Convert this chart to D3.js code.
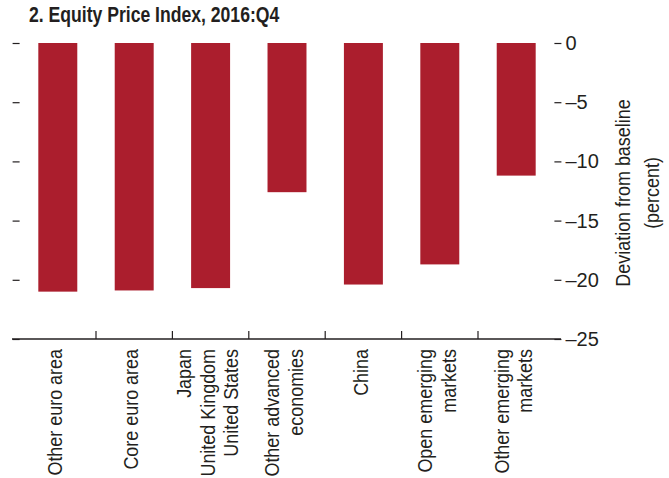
<!DOCTYPE html>
<html><head><meta charset="utf-8">
<script src="https://cdn.jsdelivr.net/npm/d3@7"></script>
<style>
html,body{margin:0;padding:0;background:#fff;}
text{font-family:"Liberation Sans",Arial,sans-serif;fill:#231f20;}
</style></head>
<body>
<svg id="c" width="669" height="478"></svg>
<script>
const title = "2. Equity Price Index, 2016:Q4";
const categories = ["Other euro area","Core euro area","Japan/United Kingdom/United States","Other advanced economies","China","Open emerging markets","Other emerging markets"];
const categoryLines = [["Other euro area"],["Core euro area"],["Japan","United Kingdom","United States"],["Other advanced","economies"],["China"],["Open emerging","markets"],["Other emerging","markets"]];
const values = [-21.0,-20.9,-20.7,-12.6,-20.4,-18.7,-11.2];
const yTicks = [0,-5,-10,-15,-20,-25];
const yTitle = ["Deviation from baseline","(percent)"];

const svg = d3.select("#c");
const color = "#ab1e2d";
const ink = "#231f20";
const narrow = 0.875;

const x = d3.scaleBand().domain(categories).range([19.6,554.4]).padding(0);
const y = d3.scaleLinear().domain([-25,0]).range([339,43]);
const barW = x.bandwidth()*0.51;

svg.append("text").attr("transform","translate(29,22) scale(0.8,1)")
  .attr("font-size",22).attr("font-weight","bold").text(title);

// bars
svg.selectAll("rect.bar").data(values).enter().append("rect")
  .attr("class","bar")
  .attr("x",(d,i)=>x(categories[i])+x.bandwidth()/2-barW/2)
  .attr("y",y(0))
  .attr("width",barW)
  .attr("height",d=>y(d)-y(0))
  .attr("fill",color);

// left ticks
const yl = svg.append("g").attr("transform",`translate(${x.range()[0]},0)`)
  .call(d3.axisLeft(y).tickValues(yTicks).tickSize(7).tickFormat(""));
yl.select(".domain").remove();
yl.selectAll("line").attr("stroke",ink).attr("stroke-width",1.2);

// right axis
const yr = svg.append("g").attr("transform",`translate(${x.range()[1]},0)`)
  .call(d3.axisRight(y).tickValues(yTicks).tickSize(7).tickPadding(4).tickFormat(d=>d===0?"0":"\u2013"+Math.abs(d)));
yr.select(".domain").remove();
yr.selectAll("line").attr("stroke",ink).attr("stroke-width",1.2);
yr.selectAll("text").attr("font-size",20).attr("fill",ink).attr("font-family",null);

// x axis baseline
svg.append("line").attr("x1",12).attr("x2",561).attr("y1",y(-25)).attr("y2",y(-25)).attr("stroke",ink).attr("stroke-width",1.3);
// category boundary ticks
const bounds = categories.slice(1).map(c=>x(c));
svg.selectAll("line.bt").data(bounds).enter().append("line")
  .attr("x1",d=>d).attr("x2",d=>d).attr("y1",y(-25)-8).attr("y2",y(-25))
  .attr("stroke",ink).attr("stroke-width",1.2);

// category labels
const lh = 23.5;
categoryLines.forEach((lines,i)=>{
  const cx = x(categories[i])+x.bandwidth()/2 - 3;
  const t = svg.append("text").attr("transform",`translate(${cx},349) rotate(-90) scale(${narrow},1)`)
    .attr("text-anchor","end").attr("font-size",20.5);
  lines.forEach((ln,j)=>{
    t.append("tspan").attr("x",0).attr("y",(j-(lines.length-1)/2)*lh).attr("dy","0.35em").text(ln);
  });
});

// y title
const yt = svg.append("text").attr("transform",`translate(637,193) rotate(-90) scale(${narrow},1)`).attr("text-anchor","middle").attr("font-size",20.5);
yTitle.forEach((ln,j)=>{
  yt.append("tspan").attr("x",0).attr("y",(j-0.5)*29).attr("dy","0.35em").text(ln);
});
</script>
</body></html>
